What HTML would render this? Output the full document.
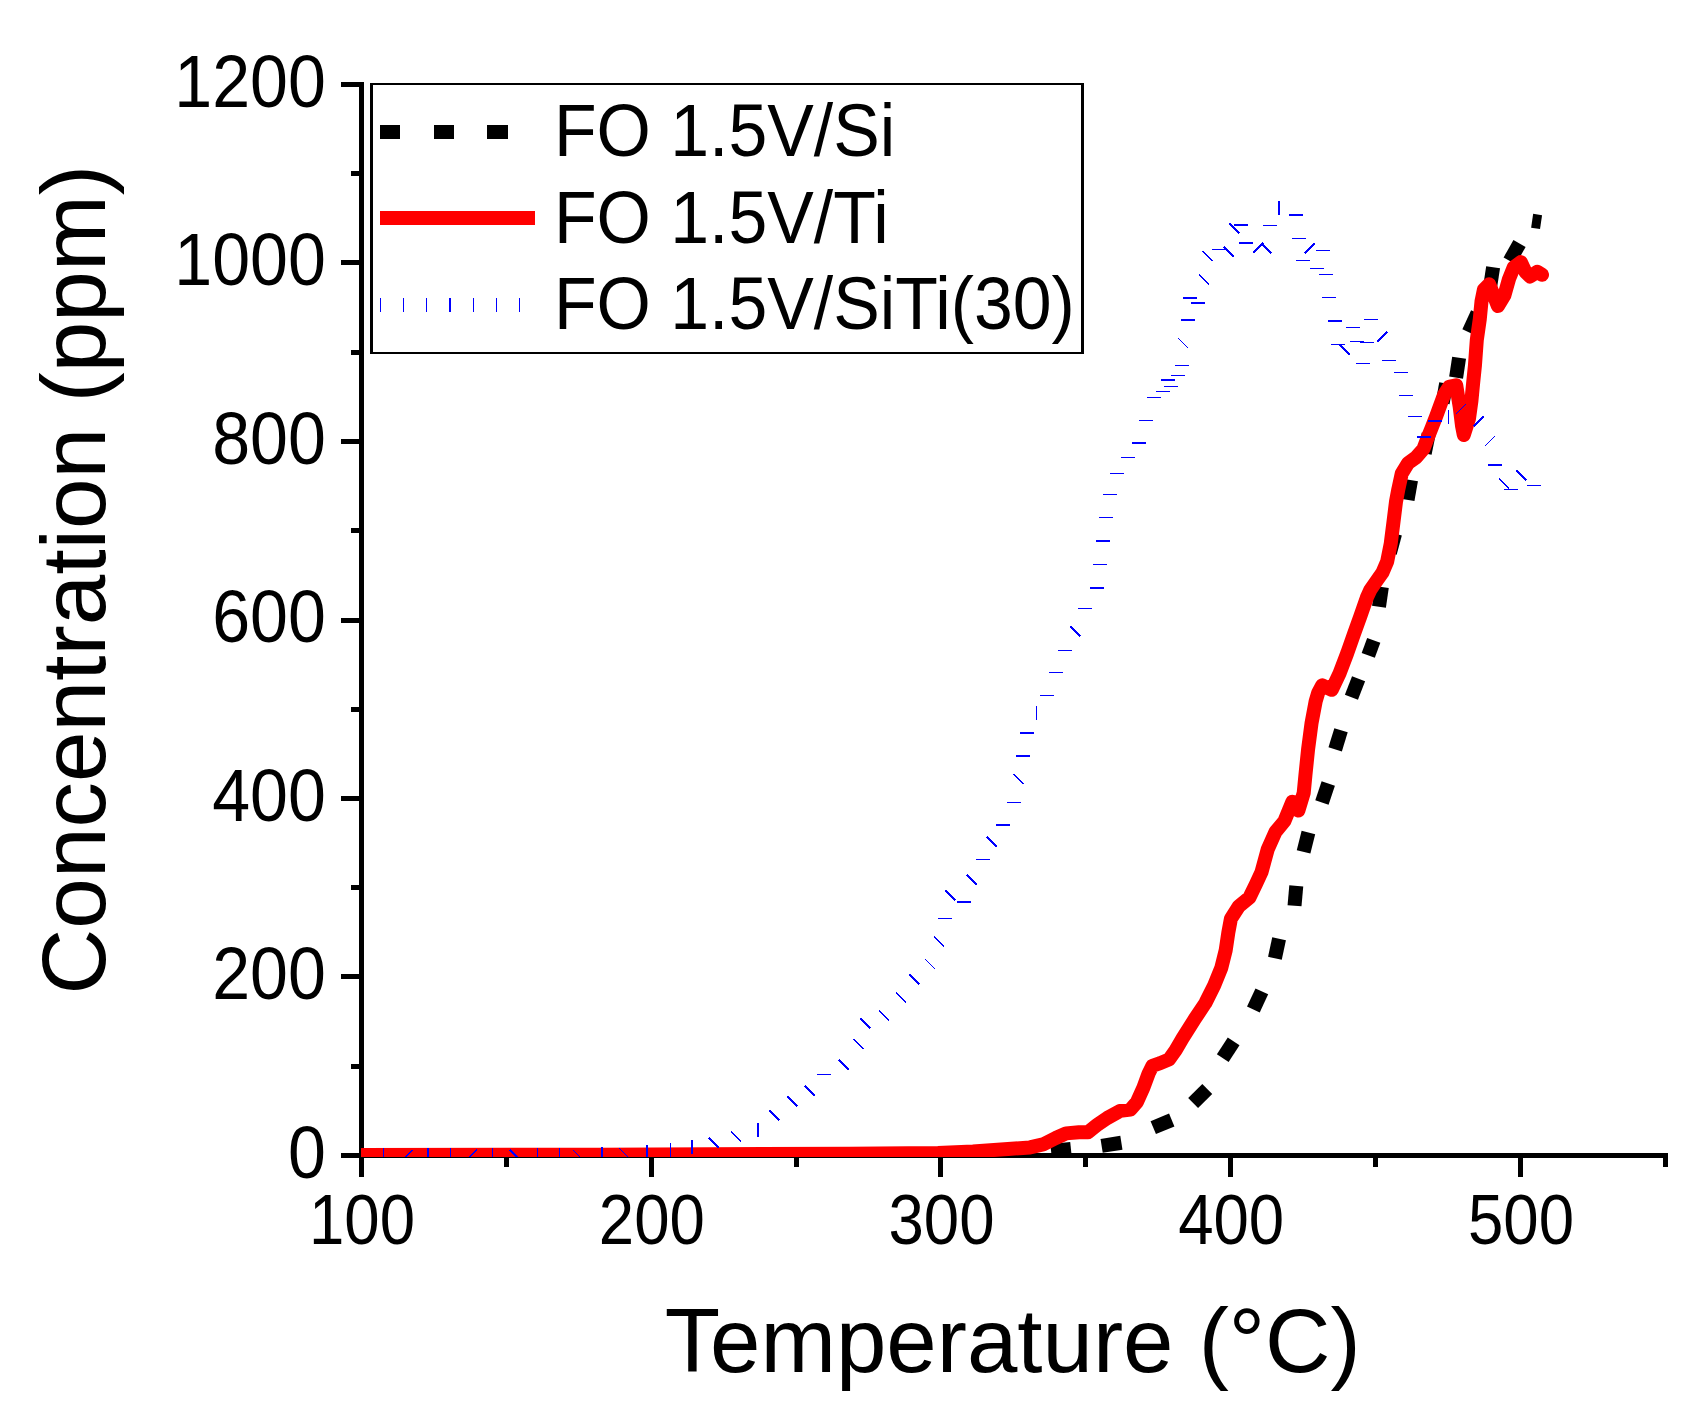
<!DOCTYPE html>
<html lang="en"><head><meta charset="utf-8"><title>Concentration vs Temperature</title>
<style>html,body{margin:0;padding:0;background:#fff}svg{display:block}text{font-family:"Liberation Sans",sans-serif;fill:#000}</style>
</head><body>
<svg width="1707" height="1406" viewBox="0 0 1707 1406">
<rect width="1707" height="1406" fill="#fff"/>
<defs><clipPath id="plot"><rect x="361" y="60" width="1320" height="1097"/></clipPath></defs>
<g fill="#000" shape-rendering="crispEdges">
<rect x="359" y="82" width="5" height="1095"/>
<rect x="341" y="1153" width="1327" height="5"/>
<rect x="351" y="1064" width="8" height="5"/>
<rect x="341" y="974" width="18" height="5"/>
<rect x="351" y="885" width="8" height="5"/>
<rect x="341" y="796" width="18" height="5"/>
<rect x="351" y="707" width="8" height="5"/>
<rect x="341" y="618" width="18" height="5"/>
<rect x="351" y="528" width="8" height="5"/>
<rect x="341" y="439" width="18" height="5"/>
<rect x="351" y="350" width="8" height="5"/>
<rect x="341" y="260" width="18" height="5"/>
<rect x="351" y="171" width="8" height="5"/>
<rect x="341" y="82" width="18" height="5"/>
<rect x="504" y="1158" width="5" height="9"/>
<rect x="649" y="1158" width="5" height="19"/>
<rect x="794" y="1158" width="5" height="9"/>
<rect x="938" y="1158" width="5" height="19"/>
<rect x="1083" y="1158" width="5" height="9"/>
<rect x="1228" y="1158" width="5" height="19"/>
<rect x="1373" y="1158" width="5" height="9"/>
<rect x="1518" y="1158" width="5" height="19"/>
<rect x="1663" y="1158" width="5" height="9"/>
</g>
<g font-size="73.4px" text-anchor="end">
<text transform="translate(325.8,1177.6) scale(0.928,1)">0</text>
<text transform="translate(325.8,999.1) scale(0.928,1)">200</text>
<text transform="translate(325.8,820.6) scale(0.928,1)">400</text>
<text transform="translate(325.8,642.1) scale(0.928,1)">600</text>
<text transform="translate(325.8,463.6) scale(0.928,1)">800</text>
<text transform="translate(325.8,285.1) scale(0.928,1)">1000</text>
<text transform="translate(325.8,106.6) scale(0.928,1)">1200</text>
</g>
<g font-size="70.6px" text-anchor="middle">
<text transform="translate(362.0,1243.6) scale(0.9,1)">100</text>
<text transform="translate(651.8,1243.6) scale(0.9,1)">200</text>
<text transform="translate(941.5,1243.6) scale(0.9,1)">300</text>
<text transform="translate(1231.2,1243.6) scale(0.9,1)">400</text>
<text transform="translate(1521.0,1243.6) scale(0.9,1)">500</text>
</g>
<text transform="translate(1012.7,1371.8) scale(1.007,1.015)" font-size="90px" text-anchor="middle">Temperature (°C)</text>
<text transform="translate(105.4,579.7) rotate(-90)" font-size="91px" text-anchor="middle">Concentration (ppm)</text>
<g clip-path="url(#plot)">
<g fill="#000">
<rect x="-10.0" y="-7.0" width="20" height="14" transform="translate(1061,1150) rotate(-6)"/>
<rect x="-10.0" y="-7.0" width="20" height="14" transform="translate(1111.5,1144.3) rotate(-9)"/>
<rect x="-10.0" y="-7.0" width="20" height="14" transform="translate(1162.5,1123.8) rotate(-22.6)"/>
<rect x="-10.0" y="-7.0" width="20" height="14" transform="translate(1200.2,1096) rotate(-45)"/>
<rect x="-10.0" y="-7.0" width="20" height="14" transform="translate(1228.2,1049.8) rotate(-57)"/>
<rect x="-10.0" y="-7.0" width="20" height="14" transform="translate(1257.6,1000.4) rotate(-65)"/>
<rect x="-10.0" y="-7.0" width="20" height="14" transform="translate(1277,948.5) rotate(-78)"/>
<rect x="-10.0" y="-7.0" width="20" height="14" transform="translate(1295.4,895.8) rotate(-85)"/>
<rect x="-10.0" y="-7.0" width="20" height="14" transform="translate(1306,842.2) rotate(-76)"/>
<rect x="-10.0" y="-7.0" width="20" height="14" transform="translate(1325.1,793) rotate(-71.5)"/>
<rect x="-10.0" y="-7.0" width="20" height="14" transform="translate(1338.1,739.8) rotate(-73)"/>
<rect x="-10.0" y="-7.0" width="20" height="14" transform="translate(1355,688) rotate(-69)"/>
<rect x="-8.0" y="-7.0" width="16" height="14" transform="translate(1371,647.9) rotate(-70)"/>
<rect x="-10.0" y="-7.0" width="20" height="14" transform="translate(1380.4,596.9) rotate(-81.7)"/>
<rect x="-10.0" y="-7.0" width="20" height="14" transform="translate(1392.5,543.3) rotate(-75)"/>
<rect x="-10.0" y="-7.0" width="20" height="14" transform="translate(1409.3,490) rotate(-80)"/>
<rect x="-10.0" y="-7.0" width="20" height="14" transform="translate(1426.7,443.6) rotate(-78.6)"/>
<rect x="-10.0" y="-7.0" width="20" height="14" transform="translate(1444.4,393.3) rotate(-80)"/>
<rect x="-10.0" y="-7.0" width="20" height="14" transform="translate(1457.6,367.7) rotate(-81.4)"/>
<rect x="-10.5" y="-7.0" width="21" height="14" transform="translate(1473.1,322.7) rotate(-65.6)"/>
<rect x="-10.0" y="-7.0" width="20" height="14" transform="translate(1491.6,277.1) rotate(-81.3)"/>
<rect x="-10.0" y="-7.0" width="20" height="14" transform="translate(1514.6,252.2) rotate(-60.5)"/>
<rect x="-7.0" y="-4.5" width="14" height="9" transform="translate(1536.6,221.4) rotate(-81.6)"/>
</g>
<polyline points="340,1155 600,1154.8 850,1153.7 938,1152.9 973,1151.5 1008,1149 1030,1147.4 1043,1144.4 1055.8,1138 1066.1,1133.4 1079,1132.2 1088,1132.2 1097,1125.1 1107.3,1118 1120.2,1110.9 1130.5,1109.6 1137,1101.9 1143.4,1087.7 1148.6,1073.5 1152.4,1065.8 1160.2,1063.2 1169.2,1059.3 1175.6,1050.3 1182.6,1038.2 1194.9,1018.8 1205.4,1003 1214.2,985.4 1221.3,967.9 1225.7,950.3 1228.3,932.7 1230.9,918.7 1238.8,906.4 1249.4,897.6 1256,884 1261.5,872.1 1267.7,849.3 1275.6,831.7 1284.4,821.1 1292.3,801.8 1298.4,810.6 1303.7,793 1305.4,775.4 1308.1,749.1 1311.6,722.7 1315.6,701.6 1318.2,692.8 1322.2,685.3 1331.8,689.8 1339.5,673.5 1347.2,653.2 1353.7,634.7 1360.4,616.2 1366.8,597.7 1370.3,590 1374.5,583.9 1382.5,572.5 1387.2,561.4 1390.7,543.8 1393.4,522.7 1396,501.6 1398.4,488.9 1401.7,473.7 1408.1,463.1 1416.3,457.2 1423.4,449 1426.9,439.7 1431.6,428 1436.2,416.2 1440.9,403.4 1444.4,394 1449.1,386.9 1456.2,385.2 1459.7,406.9 1462,425.6 1463.8,435 1469,418.6 1471.4,401 1473.1,383.4 1474.9,365.9 1476.8,340 1479.8,318.9 1481.5,301.3 1483.9,289.6 1489.1,284.3 1493.8,295.4 1497.9,306 1504.4,295.4 1509,279 1513.7,267.3 1520.8,262.1 1525.5,272 1530.1,276.5 1537.2,271.8 1542,274.8" fill="none" stroke="#ff0000" stroke-width="14" stroke-linejoin="round" stroke-linecap="round"/>
<path d="M383.5,1147.8L383.5,1161.8M450.3,1147.8L450.3,1161.8M466.9,1159.8L476.9,1149.8M492.4,1147.8L492.4,1161.8M537.8,1147.8L537.8,1161.8M559.4,1147.8L559.4,1161.8M572.8,1149.8L582.8,1159.8M619.4,1148.5L629.4,1158.5M670.3,1142.9L670.3,1156.9M730.9,1131.3L740.9,1141.3M817.0,1074.2L831.0,1074.2M853.5,1038.9L863.5,1048.9M879.0,1010.4L889.0,1020.4M896.1,992.8L906.1,1002.8M924.5,958.8L934.5,968.8M937.9,918.3L951.9,918.3M975.5,859.4L989.5,859.4M1006.6,802.2L1020.6,802.2M1013.6,774.3L1023.6,784.3M1036.6,705.9L1036.6,719.9M1039.9,695.4L1053.9,695.4M1049.1,672.4L1063.1,672.4M1057.5,650.4L1071.5,650.4M1078.1,608.4L1092.1,608.4M1093.1,564.4L1107.1,564.4M1098.9,517.3L1112.9,517.3M1102.9,494.3L1116.9,494.3M1109.5,473.5L1123.5,473.5M1121.4,457.3L1135.4,457.3M1138.5,420.3L1152.5,420.3M1146.5,397.5L1160.5,397.5M1156.2,391.2L1170.2,391.2M1163.7,386.5L1177.7,386.5M1170.6,375.3L1184.6,375.3M1175.0,365.2L1189.0,365.2M1178.4,338.4L1188.4,348.4M1199.0,274.5L1209.0,284.5M1202.3,250.9L1212.3,260.9M1211.5,249.2L1225.5,249.2M1263.0,225.3L1277.0,225.3M1292.0,238.2L1306.0,238.2M1316.1,250.3L1330.1,250.3M1296.1,260.3L1310.1,260.3M1310.0,268.4L1324.0,268.4M1319.4,274.4L1333.4,274.4M1322.4,297.2L1336.4,297.2M1346.0,327.3L1360.0,327.3M1364.1,319.4L1378.1,319.4M1349.8,341.3L1363.8,341.3M1360.4,342.4L1374.4,342.4M1330.7,344.3L1344.7,344.3M1356.0,363.3L1370.0,363.3M1381.5,360.3L1395.5,360.3M1394.0,372.3L1408.0,372.3M1399.1,395.2L1413.1,395.2M1407.9,416.3L1421.9,416.3M1448.4,410.0L1448.4,424.0M1456.1,414.1L1466.1,404.1M1484.8,446.4L1494.8,436.4M1498.9,478.2L1508.9,488.2M1503.5,489.4L1517.5,489.4M1527.0,485.4L1541.0,485.4" fill="none" stroke="#0000ff" stroke-width="1" shape-rendering="crispEdges"/>
<path d="M402.7,1159.8L412.7,1149.8M427.9,1147.8L427.9,1161.8M509.9,1149.8L519.9,1159.8M601.9,1146.8L601.9,1160.8M647.1,1145.3L647.1,1159.3M691.9,1139.8L691.9,1153.8M708.9,1137.6L718.9,1147.6M757.9,1122.9L757.9,1136.9M769.6,1110.2L779.6,1120.2M787.4,1096.1L797.4,1106.1M805.0,1085.8L815.0,1095.8M838.5,1059.8L848.5,1069.8M860.0,1018.1L870.0,1028.1M909.0,974.3L919.0,984.3M933.8,936.3L943.8,946.3M945.6,890.4L955.6,900.4M956.9,902.0L970.9,902.0M966.9,875.0L976.9,885.0M987.1,836.8L997.1,846.8M996.1,825.0L1010.1,825.0M1016.0,755.8L1030.0,755.8M1020.0,732.9L1034.0,732.9M1070.3,626.2L1080.3,636.2M1090.0,587.8L1104.0,587.8M1096.1,540.7L1110.1,540.7M1131.5,442.8L1145.5,442.8M1160.6,379.8L1174.6,379.8M1181.0,320.1L1195.0,320.1M1191.0,302.8L1205.0,302.8M1183.1,297.8L1197.1,297.8M1223.7,246.4L1233.7,256.4M1239.3,242.7L1253.3,242.7M1229.5,223.3L1239.5,233.3M1233.9,225.2L1247.9,225.2M1253.3,252.5L1263.3,242.5M1261.0,243.2L1271.0,253.2M1279.0,200.9L1279.0,214.9M1289.4,215.0L1303.4,215.0M1304.9,253.5L1314.9,243.5M1328.1,320.8L1342.1,320.8M1377.0,341.9L1387.0,331.9M1339.8,345.0L1349.8,355.0M1428.1,420.9L1442.1,420.9M1417.0,436.9L1431.0,436.9M1473.7,426.4L1483.7,416.4M1488.1,464.8L1502.1,464.8M1516.7,470.3L1526.7,480.3" fill="none" stroke="#0000ff" stroke-width="2" shape-rendering="crispEdges"/>
</g>
<g shape-rendering="crispEdges">
<rect x="370" y="83" width="714" height="271" fill="#fff"/>
<rect x="370" y="83" width="714" height="2"/><rect x="370" y="352" width="714" height="2"/><rect x="370" y="83" width="3" height="271"/><rect x="1081" y="83" width="3" height="271"/>
<rect x="380" y="125" width="20" height="14"/><rect x="434" y="125" width="20" height="14"/><rect x="487" y="125" width="21" height="14"/>
<rect x="380" y="211" width="155" height="14" fill="#ff0000"/>
<rect x="380" y="298" width="1" height="14" fill="#0000ff"/>
<rect x="403" y="298" width="1" height="14" fill="#0000ff"/>
<rect x="426" y="298" width="1" height="14" fill="#0000ff"/>
<rect x="449" y="298" width="2" height="14" fill="#0000ff"/>
<rect x="473" y="298" width="1" height="14" fill="#0000ff"/>
<rect x="496" y="298" width="1" height="14" fill="#0000ff"/>
<rect x="519" y="298" width="1" height="14" fill="#0000ff"/>
</g>
<g font-size="74.1px">
<text transform="translate(553.9,155.9) scale(0.942,1)">FO 1.5V/Si</text>
<text transform="translate(553.9,243) scale(0.942,1)">FO 1.5V/Ti</text>
<text transform="translate(553.9,329) scale(0.942,1)">FO 1.5V/SiTi(30)</text>
</g>
</svg></body></html>
